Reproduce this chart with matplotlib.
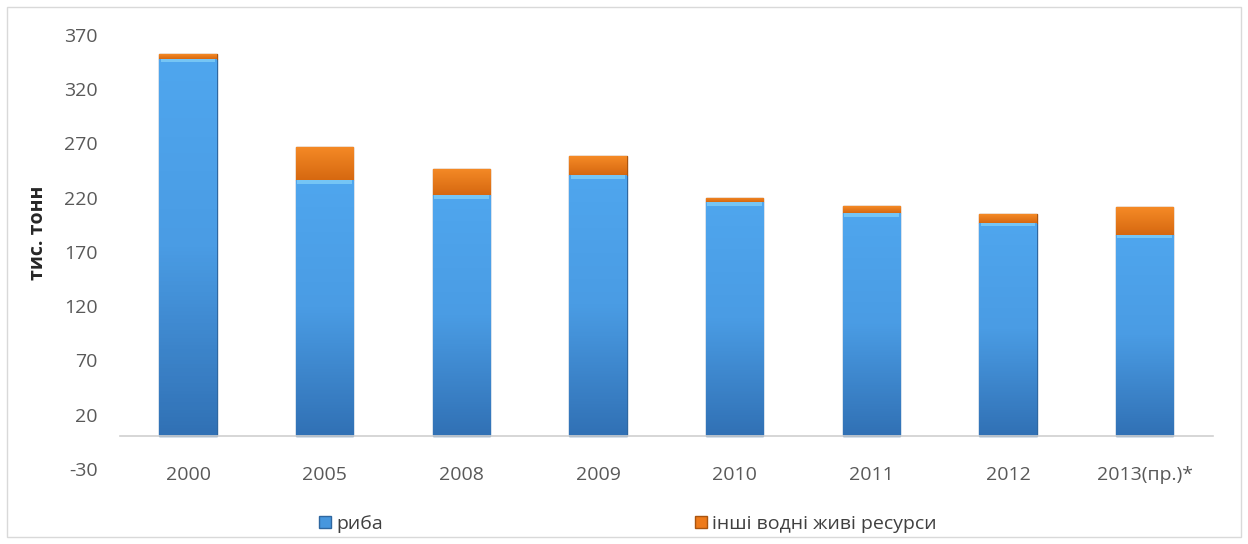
import numpy as np
import matplotlib
matplotlib.use("Agg")
from matplotlib import pyplot as plt
from matplotlib.patches import Rectangle
from matplotlib.colors import LinearSegmentedColormap

years = ["2000", "2005", "2008", "2009", "2010", "2011", "2012", "2013(пр.)*"]
fish = [348, 236, 222, 241, 216, 206, 197, 186]
other = [4, 31, 24, 17, 4, 6, 8, 25]
yticks = [-30, 20, 70, 120, 170, 220, 270, 320, 370]

plt.rcParams["font.family"] = ["Open Sans", "DejaVu Sans"]
plt.rcParams["axes.unicode_minus"] = False

fig = plt.figure(figsize=(12.48, 5.44), dpi=100)
ax = fig.add_axes([0.096, 0.138, 0.876, 0.798])

x = np.arange(len(years))
w = 0.42
b1 = ax.bar(x, fish, w, color="#4797DE", edgecolor="#2F67A0", linewidth=1.0, zorder=2, label="риба")
b2 = ax.bar(x, other, w, bottom=fish, color="#EE7A1A", edgecolor="#A9540F", linewidth=1.0, zorder=2,
            label="інші водні живі ресурси")

# vertical gradient inside bars
grad = np.linspace(0, 1, 100).reshape(-1, 1)
blue_cm = LinearSegmentedColormap.from_list("b", ["#3171B5", "#4A9CE4", "#4FA6EE"])
orange_cm = LinearSegmentedColormap.from_list("o", ["#D66810", "#F58A26"])
for patches, cmap in [(b1, blue_cm), (b2, orange_cm)]:
    for p in patches:
        px, py = p.get_x(), p.get_y()
        pw, ph = p.get_width(), p.get_height()
        im = ax.imshow(grad, extent=[px, px + pw, py, py + ph], origin="lower",
                       cmap=cmap, aspect="auto", zorder=2.5)
        im.set_clip_path(p)

# light bevel strip at the top of each blue segment
for p in b1:
    ax.add_patch(Rectangle((p.get_x() + 0.01, p.get_y() + p.get_height() - 3.5),
                           p.get_width() - 0.02, 3.5, color="#7CCBF7", alpha=0.85, lw=0, zorder=2.7))

ax.set_xlim(-0.5, len(years) - 0.5)
ax.set_ylim(-30, 370)
ax.set_yticks(yticks)
ax.set_xticks(x)
ax.set_xticklabels(years)
ax.tick_params(axis="both", length=0, labelsize=14, labelcolor="#595959")
ax.tick_params(axis="y", pad=16)

for s in ["top", "right", "left"]:
    ax.spines[s].set_visible(False)
ax.spines["bottom"].set_position(("data", 0))
ax.spines["bottom"].set_color("#D0D0D0")
ax.spines["bottom"].set_linewidth(1.2)
# keep x labels at the bottom of the plot area
for lbl in ax.get_xticklabels():
    lbl.set_transform(ax.get_xaxis_transform())
    lbl.set_y(-0.015)
    lbl.set_va("center")

fig.text(38 / 1248, 1 - 233 / 544, "тис. тонн", rotation=90, fontsize=14, fontweight="bold",
         color="#262626", ha="center", va="center")

fig.legend(handles=[b1], loc="center left", bbox_to_anchor=(319 / 1248, 0.037), frameon=False,
           fontsize=14, handlelength=0.6, handleheight=0.6, handletextpad=0.3,
           borderpad=0, borderaxespad=0, labelcolor="#404040")
fig.legend(handles=[b2], loc="center left", bbox_to_anchor=(695 / 1248, 0.037), frameon=False,
           fontsize=14, handlelength=0.6, handleheight=0.6, handletextpad=0.3,
           borderpad=0, borderaxespad=0, labelcolor="#404040")

fig.patches.append(Rectangle((0.006, 0.012), 0.988, 0.976, transform=fig.transFigure,
                             fill=False, edgecolor="#D9D9D9", linewidth=1.0))

fig.savefig("out.png", dpi=100)
